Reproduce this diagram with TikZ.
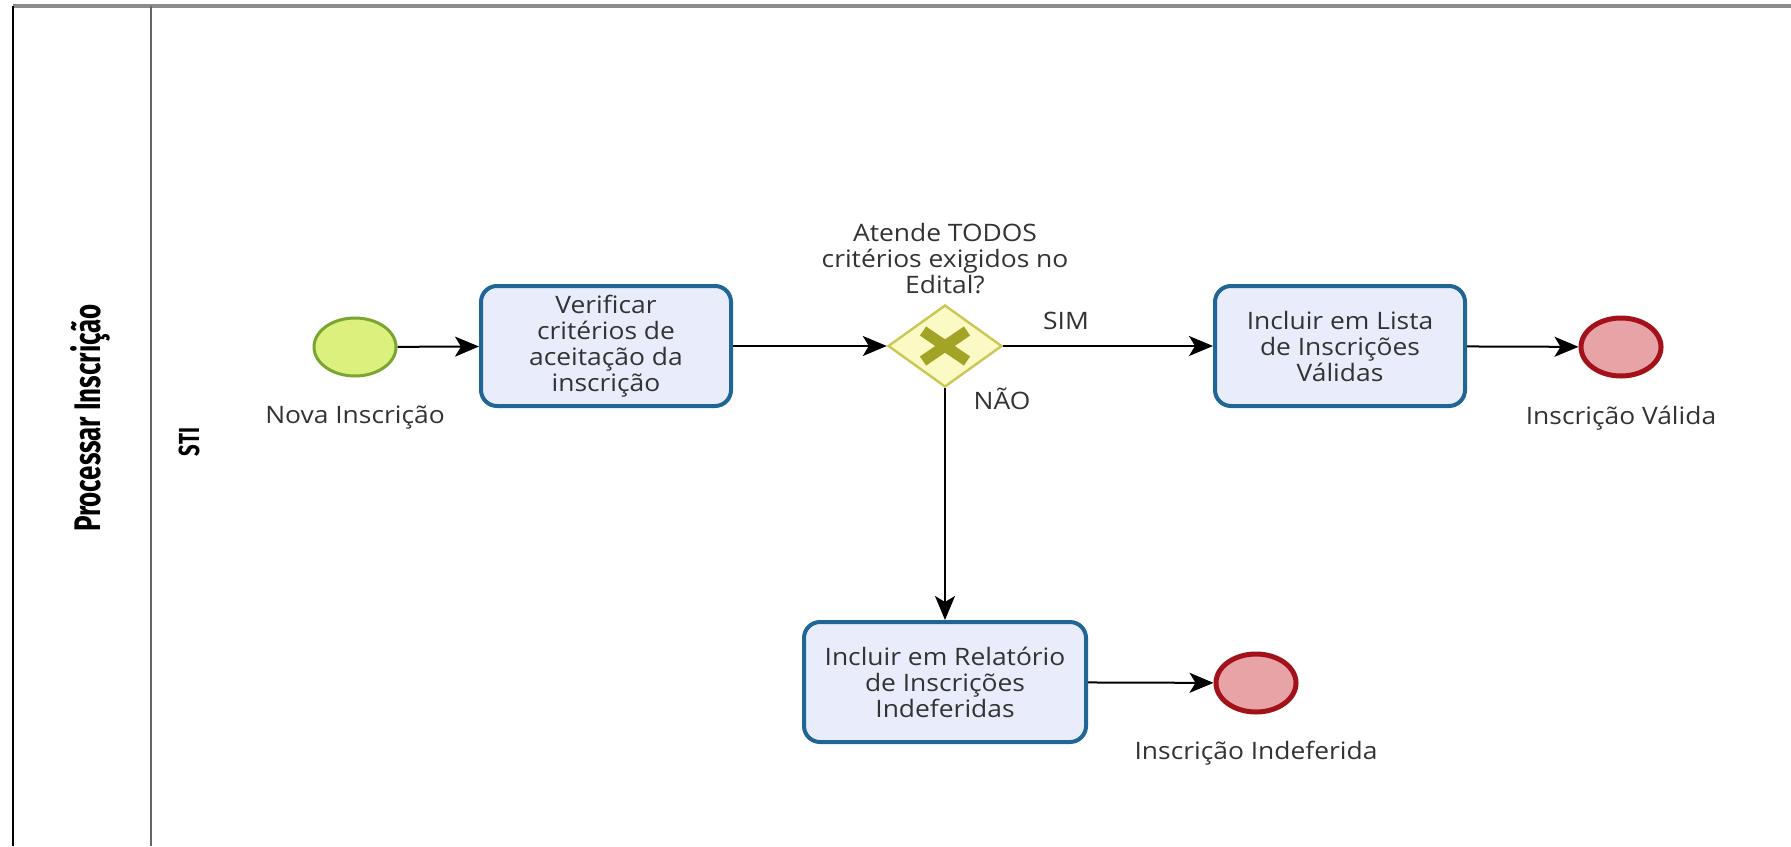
\documentclass[tikz,border=0pt]{standalone}
\usepackage{fontspec}
\setmainfont{Open Sans}[FakeStretch=1.1]
\newfontfamily\lanefont{Fira Sans}[FakeStretch=0.7]
\usetikzlibrary{arrows.meta,shapes.geometric}

\definecolor{taskfill}{HTML}{E9EDFB}
\definecolor{taskline}{HTML}{1F6596}
\definecolor{startfill}{HTML}{DCF07E}
\definecolor{startline}{HTML}{7BA531}
\definecolor{endfill}{HTML}{E8A3A6}
\definecolor{endline}{HTML}{A3121A}
\definecolor{gwfill}{HTML}{FBF9C4}
\definecolor{gwline}{HTML}{C9C756}
\definecolor{gwmark}{HTML}{A3A326}
\definecolor{txt}{HTML}{333333}
\definecolor{poolgray}{HTML}{8C8C8C}

\begin{document}
\begin{tikzpicture}[x=0.5pt,y=-0.5pt,
  font=\fontsize{12}{13}\selectfont,
  task/.style={rectangle,rounded corners=8pt,draw=taskline,line width=2pt,
    fill=taskfill,text=txt,align=center,inner sep=0pt,
    minimum width=125pt,minimum height=60pt},
  startev/.style={ellipse,draw=startline,line width=1.5pt,fill=startfill,
    inner sep=0pt,minimum width=41pt,minimum height=29pt},
  endev/.style={ellipse,draw=endline,line width=2.5pt,fill=endfill,
    inner sep=0pt,minimum width=40pt,minimum height=29pt},
  gateway/.style={diamond,draw=gwline,line width=1.2pt,fill=gwfill,
    inner sep=0pt,minimum width=57pt,minimum height=41pt},
  lbl/.style={text=txt,align=center,inner sep=0pt},
  lanetitle/.style={rotate=90,inner sep=0pt,
    font=\lanefont\bfseries\fontsize{14.5}{15}\selectfont},
  flow/.style={line width=1pt,black,-{Stealth[length=12pt,width=10pt,inset=3pt]}}
]
\useasboundingbox (0,0) rectangle (1791,846);
\fill[white] (0,0) rectangle (1791,846);

% pool and lane frame
\draw[poolgray,line width=1.6pt] (13,6) -- (1791,6);
\draw[black,line width=1.2pt] (13,6) -- (13,846);
\draw[black!60,line width=1.2pt] (151,6) -- (151,846);

\node[lanetitle,font=\lanefont\bfseries\fontsize{18.5}{19}\selectfont] (pool) at (90,418) {Processar Inscrição};
\node[lanetitle] (lane) at (189,442) {STI};

% flow elements
\node[startev] (start) at (355,347) {};
\node[task] (verify) at (606,346) {Verificar\\critérios de\\aceitação da\\inscrição};
\node[gateway] (gw) at (945,346) {};
\draw[gwmark,line width=5.5pt] (gw.center) ++(-22,-15) -- ++(44,30);
\draw[gwmark,line width=5.5pt] (gw.center) ++(-22,15) -- ++(44,-30);
\node[task] (valid) at (1340,346) {Incluir em Lista\\de Inscrições\\Válidas};
\node[endev] (endvalid) at (1621,347) {};
\node[task,minimum width=141pt] (rejected) at (945,682) {Incluir em Relatório\\de Inscrições\\Indeferidas};
\node[endev] (endrej) at (1256,683) {};

% labels
\node[lbl] (startlbl) at (355,418) {Nova Inscrição};
\node[lbl] (gwlbl) at (945,259) {\baselineskip=13.5pt Atende TODOS\\critérios exigidos no\\Edital?};
\node[lbl] (validlbl) at (1621,418) {Inscrição Válida};
\node[lbl] (rejlbl) at (1256,753) {Inscrição Indeferida};

% sequence flows
\draw[flow] (start) -- (verify);
\draw[flow] (verify) -- (gw);
\draw[flow] (gw) -- (valid);
\node[lbl] (sim) at (1066,321) {SIM};
\draw[flow] (gw) -- (rejected);
\node[lbl] (nao) at (1002,399) {NÃO};
\draw[flow] (valid) -- (endvalid);
\draw[flow] (rejected) -- (endrej);
\end{tikzpicture}
\end{document}
